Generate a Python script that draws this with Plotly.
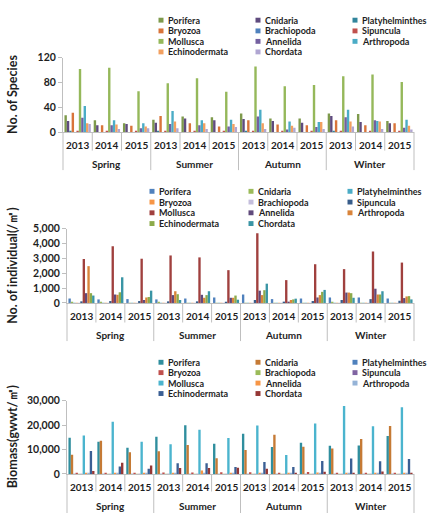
import plotly.graph_objects as go

seasons = ["Spring", "Summer", "Autumn", "Winter"]
years = ["2013", "2014", "2015"]
taxa = ["Porifera", "Cnidaria", "Platyhelminthes", "Bryozoa", "Brachiopoda", "Sipuncula",
        "Mollusca", "Annelida", "Arthropoda", "Echinodermata", "Chordata"]

# order of groups: Spring 2013..2015, Summer 2013..2015, Autumn ..., Winter ...
species_counts = {
    "Porifera":        [27, 19, 14, 20, 25, 24, 30, 22, 22, 30, 29, 18],
    "Cnidaria":        [18, 11, 13, 15, 22, 19, 21, 18, 15, 26, 16, 14],
    "Platyhelminthes": [1, 0, 0, 1, 0, 0, 1, 0, 0, 1, 0, 0],
    "Bryozoa":         [31, 11, 10, 26, 14, 9, 19, 12, 11, 19, 11, 14],
    "Brachiopoda":     [0, 0, 0, 0, 0, 0, 0, 0, 0, 0, 0, 0],
    "Sipuncula":       [1, 1, 1, 1, 1, 1, 1, 1, 1, 1, 1, 1],
    "Mollusca":        [102, 104, 66, 79, 87, 65, 106, 74, 76, 90, 93, 81],
    "Annelida":        [23, 11, 6, 13, 11, 9, 25, 4, 8, 24, 19, 7],
    "Arthropoda":      [42, 19, 14, 34, 19, 20, 36, 17, 16, 36, 18, 20],
    "Echinodermata":   [14, 12, 9, 17, 14, 13, 14, 10, 16, 17, 17, 10],
    "Chordata":        [13, 5, 6, 6, 5, 8, 5, 7, 5, 9, 5, 4],
}

individual_density = {
    "Porifera":        [300, 240, 260, 240, 300, 370, 570, 260, 300, 370, 370, 300],
    "Cnidaria":        [20, 40, 10, 40, 10, 10, 10, 10, 10, 40, 10, 10],
    "Platyhelminthes": [5, 5, 5, 5, 5, 5, 5, 5, 5, 5, 5, 5],
    "Bryozoa":         [5, 5, 5, 5, 5, 5, 5, 5, 5, 5, 5, 5],
    "Brachiopoda":     [5, 5, 5, 5, 5, 5, 5, 5, 5, 5, 5, 5],
    "Sipuncula":       [110, 130, 130, 110, 110, 50, 200, 90, 130, 200, 260, 150],
    "Mollusca":        [2960, 3820, 2980, 3200, 3070, 2210, 4700, 1540, 2610, 2280, 3460, 2720],
    "Annelida":        [660, 570, 200, 530, 550, 350, 830, 90, 370, 700, 960, 330],
    "Arthropoda":      [2480, 550, 370, 790, 350, 350, 530, 200, 530, 700, 570, 440],
    "Echinodermata":   [660, 720, 400, 590, 530, 500, 860, 240, 750, 660, 570, 460],
    "Chordata":        [500, 1730, 830, 200, 790, 220, 1300, 290, 880, 350, 790, 240],
}

biomass = {
    "Porifera":        [14800, 13200, 10700, 15200, 19900, 12400, 16400, 11000, 12800, 11500, 11600, 15500],
    "Cnidaria":        [7900, 13600, 8900, 9300, 11800, 6400, 9800, 16000, 11100, 10400, 14300, 19600],
    "Platyhelminthes": [50, 50, 50, 50, 50, 50, 50, 50, 50, 50, 50, 50],
    "Bryozoa":         [400, 400, 400, 600, 600, 700, 700, 400, 800, 500, 400, 400],
    "Brachiopoda":     [100, 100, 100, 100, 100, 100, 100, 100, 100, 100, 100, 100],
    "Sipuncula":       [100, 100, 100, 100, 100, 100, 100, 100, 100, 100, 100, 100],
    "Mollusca":        [15700, 21400, 13200, 12200, 18100, 14700, 19800, 7800, 20600, 27800, 19500, 27300],
    "Annelida":        [300, 200, 200, 200, 1400, 200, 200, 200, 600, 200, 200, 200],
    "Arthropoda":      [300, 200, 200, 200, 200, 200, 300, 200, 300, 200, 200, 200],
    "Echinodermata":   [9400, 3000, 2100, 4400, 4400, 2800, 4900, 2800, 5300, 6300, 5200, 6100],
    "Chordata":        [1200, 4600, 3400, 2400, 2400, 2500, 2100, 400, 900, 400, 1000, 300],
}

colors1 = ["#7E9A4C", "#5F4B7E", "#31859C", "#D9743A", "#4F81BD", "#C0504D",
           "#95B85A", "#7460A0", "#4BACC6", "#F2A060", "#B0A6D2"]
colors2 = ["#4F81BD", "#9BBB59", "#4BACC6", "#F79646", "#C4BEDC", "#385D8A",
           "#A0403E", "#604A7B", "#D9843A", "#8CAA4A", "#3A95A5"]
colors3 = ["#2F8E9E", "#C57A35", "#4F81BD", "#C0504D", "#9BBB59", "#8064A2",
           "#4BB4CE", "#F79646", "#95B3D7", "#3A5F94", "#953735"]

xcats = [[s for s in seasons for _ in years], [y for _ in seasons for y in years]]

W, H = 431, 519
fig = go.Figure()

panels = [
    (species_counts, colors1, "x", "y"),
    (individual_density, colors2, "x2", "y2"),
    (biomass, colors3, "x3", "y3"),
]
for data, cols, xa, ya in panels:
    for name, c in zip(taxa, cols):
        fig.add_trace(go.Bar(x=xcats, y=data[name], name=name, marker_color=c,
                             marker_line_width=0, xaxis=xa, yaxis=ya, showlegend=False,
                             hoverinfo="skip"))

txt = "#1E1E1E"
ff = "Lato"
grid = "#BFBFBF"

# panel geometry (pixels)
geo = [
    dict(x0=63, x1=414, ytop=53, ybot=129, rng=[0, 120], dtick=40, ydiv=19, sdiv=39),
    dict(x0=67, x1=414, ytop=228, ybot=304, rng=[0, 5000], dtick=1000, ydiv=20, sdiv=39),
    dict(x0=67, x1=414, ytop=404, ybot=479, rng=[0, 30000], dtick=10000, ydiv=18, sdiv=40),
]
layout = dict(width=W, height=H, margin=dict(l=0, r=0, t=0, b=0),
              paper_bgcolor="white", plot_bgcolor="white",
              barmode="group", bargap=0.1, bargroupgap=0.0, showlegend=False)
for i, g in enumerate(geo):
    sfx = "" if i == 0 else str(i + 1)
    layout["xaxis" + sfx] = dict(
        type="multicategory", domain=[g["x0"] / W, g["x1"] / W], anchor="y" + sfx,
        showline=True, linecolor=grid, linewidth=1, ticks="", showticklabels=False,
        showdividers=False, showgrid=False)
    layout["yaxis" + sfx] = dict(
        domain=[1 - g["ybot"] / H, 1 - g["ytop"] / H], anchor="x" + sfx,
        range=g["rng"], dtick=g["dtick"], showgrid=False, zeroline=False,
        showline=True, linecolor=grid, linewidth=1, ticks="outside", ticklen=4,
        tickcolor=grid, tickfont=dict(family=ff, size=10.5, color=txt, weight="bold"),
        tickformat=",")
fig.update_layout(**layout)

shapes = []
annotations = []
n = len(seasons) * len(years)
for i, g in enumerate(geo):
    sfx = "" if i == 0 else str(i + 1)
    xd = "x" + sfx + " domain"
    # dividers: short between years, long between seasons (incl. edges)
    for k in range(0, n + 1):
        L = g["sdiv"] if k % len(years) == 0 else g["ydiv"]
        shapes.append(dict(type="line", xref=xd, yref="paper",
                           x0=k / n, x1=k / n, y0=1 - g["ybot"] / H, y1=1 - (g["ybot"] + L) / H,
                           line=dict(color=grid, width=1)))
    # year labels
    for k in range(n):
        annotations.append(dict(text=xcats[1][k], xref=xd, yref="paper",
                                x=(k + 0.5) / n, y=1 - (g["ybot"] + 13.7) / H,
                                xanchor="center", yanchor="middle", showarrow=False,
                                font=dict(family=ff, size=10, color=txt, weight="bold")))
    # season labels
    for s, name in enumerate(seasons):
        annotations.append(dict(text=name, xref=xd, yref="paper",
                                x=(s * len(years) + len(years) / 2) / n, y=1 - (g["ybot"] + 33) / H,
                                xanchor="center", yanchor="middle", showarrow=False,
                                font=dict(family=ff, size=10, color=txt, weight="bold")))

# axis titles
titles = ["No. of Species", "No. of individual(/㎡)", "Biomass(gwwt/㎡)"]
title_x = [13, 13, 12]
for i, g in enumerate(geo):
    annotations.append(dict(text=titles[i], textangle=-90, xref="paper", yref="paper",
                            x=title_x[i] / W, y=1 - (g["ytop"] + g["ybot"]) / 2 / H,
                            xanchor="center", yanchor="middle", showarrow=False,
                            font=dict(family=ff, size=12.5, color=txt, weight="bold")))

# manual legends
leg = [
    dict(cols=[161, 258, 355], rows=[14.5, 25.5, 36.2, 47], colors=colors1),
    dict(cols=[152, 251, 350], rows=[189.7, 200.7, 211.7, 222.7], colors=colors2),
    dict(cols=[161, 258, 355], rows=[364.7, 375.3, 386, 396.7], colors=colors3),
]
for Lg in leg:
    for j, name in enumerate(taxa):
        r, c = divmod(j, 3)
        cx, cy = Lg["cols"][c], Lg["rows"][r]
        shapes.append(dict(type="rect", xref="paper", yref="paper",
                           x0=(cx - 2.5) / W, x1=(cx + 2.5) / W,
                           y0=1 - (cy + 2.5) / H, y1=1 - (cy - 2.5) / H,
                           fillcolor=Lg["colors"][j], line=dict(width=0)))
        annotations.append(dict(text=name, xref="paper", yref="paper",
                                x=(cx + 5) / W, y=1 - cy / H, xanchor="left", yanchor="middle",
                                showarrow=False,
                                font=dict(family=ff, size=9, color=txt, weight="bold")))

fig.update_layout(shapes=shapes, annotations=annotations)
fig.write_html("out.html")
